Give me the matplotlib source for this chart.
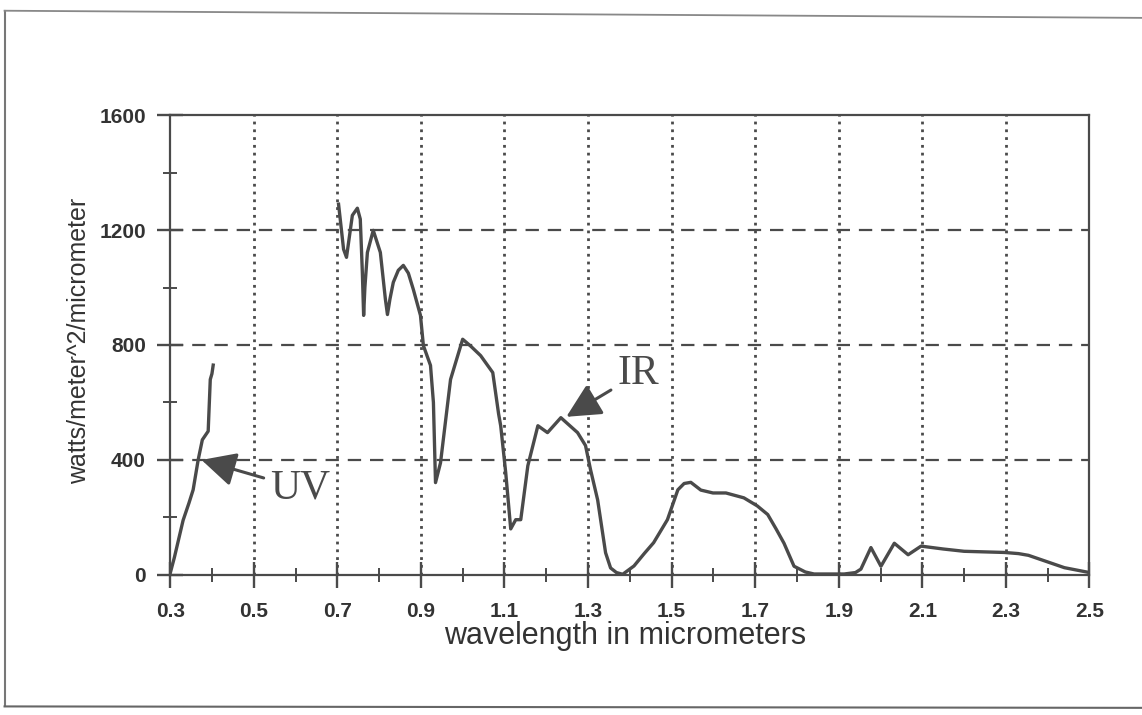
import matplotlib
matplotlib.use("Agg")
import matplotlib.pyplot as plt
from matplotlib.lines import Line2D
from matplotlib.ticker import MultipleLocator

# UV segment (wavelength in micrometers, watts/m^2/micrometer)
uv_x = [0.300, 0.310, 0.331, 0.345, 0.355, 0.367, 0.377, 0.391, 0.396, 0.400, 0.403]
uv_y = [5, 60, 190, 250, 296, 400, 470, 500, 680, 700, 730]

# visible / IR segment
ir_x = [0.703, 0.707, 0.715, 0.722, 0.727, 0.736, 0.748, 0.755, 0.760, 0.763, 0.766,
        0.772, 0.786, 0.803, 0.815, 0.820, 0.826, 0.834, 0.846, 0.858, 0.870, 0.882,
        0.899, 0.906, 0.923, 0.930, 0.935, 0.947, 0.971, 1.000, 1.020, 1.043, 1.072,
        1.086, 1.091, 1.103, 1.115, 1.127, 1.139, 1.156, 1.180, 1.203, 1.235, 1.275,
        1.294, 1.306, 1.323, 1.342, 1.354, 1.368, 1.383, 1.410, 1.435, 1.457, 1.490,
        1.515, 1.530, 1.546, 1.570, 1.599, 1.630, 1.673, 1.705, 1.730, 1.750, 1.769,
        1.793, 1.820, 1.841, 1.913, 1.940, 1.953, 1.977, 2.001, 2.033, 2.066, 2.097,
        2.150, 2.200, 2.296, 2.330, 2.354, 2.402, 2.440, 2.500]
ir_y = [1290, 1238, 1133, 1105, 1157, 1251, 1276, 1238, 1050, 903, 1000,
        1122, 1199, 1122, 960, 906, 960, 1018, 1060, 1077, 1050, 993,
        903, 798, 729, 600, 321, 390, 680, 820, 795, 763, 704,
        560, 519, 356, 160, 192, 192, 380, 519, 495, 547, 495,
        450, 366, 261, 77, 24, 8, 2, 31, 75, 112, 192,
        296, 318, 322, 295, 285, 285, 268, 240, 210, 160, 110,
        30, 10, 3, 3, 8, 20, 95, 30, 110, 70, 100,
        90, 82, 78, 74, 68, 44, 25, 8]

xticks = [0.3, 0.5, 0.7, 0.9, 1.1, 1.3, 1.5, 1.7, 1.9, 2.1, 2.3, 2.5]
yticks = [0, 400, 800, 1200, 1600]

ink = "#4a4a4a"

fig = plt.figure(figsize=(11.42, 7.15), dpi=100)
ax = fig.add_axes([0.149, 0.196, 0.805, 0.643])

ax.plot(uv_x, uv_y, color=ink, lw=2.4, solid_joinstyle="round")
ax.plot(ir_x, ir_y, color=ink, lw=2.4, solid_joinstyle="round")

ax.set_xlim(0.3, 2.5)
ax.set_ylim(0, 1600)
ax.set_xticks(xticks)
ax.set_xticklabels([f"{t:.1f}" for t in xticks])
ax.set_yticks(yticks)
ax.xaxis.set_minor_locator(MultipleLocator(0.1))
ax.yaxis.set_minor_locator(MultipleLocator(200))
ax.tick_params(axis="both", which="major", direction="inout", length=19, width=1.7,
               color=ink, labelsize=15, labelcolor="#333333")
ax.tick_params(axis="x", which="major", pad=10)
ax.tick_params(axis="y", which="major", pad=8)
ax.tick_params(axis="both", which="minor", direction="inout", length=10, width=1.4, color=ink)
for lab in ax.get_xticklabels() + ax.get_yticklabels():
    lab.set_fontweight("bold")
    lab.set_family("Liberation Sans")

for sp in ax.spines.values():
    sp.set_color(ink)
    sp.set_linewidth(1.6)

# grid: dotted verticals, dashed horizontals
for x in xticks[1:-1]:
    ax.axvline(x, color=ink, lw=2.0, ls=(0, (1.0, 1.8)), zorder=0)
for y in yticks[1:-1]:
    ax.axhline(y, color=ink, lw=1.6, ls=(0, (6, 4)), zorder=0)

ax.set_xlabel("wavelength in micrometers", fontsize=22, color="#333333",
              family="Liberation Sans")
ax.set_ylabel("watts/meter^2/micrometer", fontsize=18, color="#333333",
              family="Liberation Sans")
ax.xaxis.set_label_coords(0.495, -0.100)
ax.yaxis.set_label_coords(-0.086, 0.51)

# annotations
arrow = dict(arrowstyle="-|>,head_length=0.7,head_width=0.35",
             color=ink, lw=2.2, shrinkA=3, shrinkB=0)
ax.annotate("UV", xy=(0.375, 400), xytext=(0.54, 300), fontsize=30,
            family="Liberation Serif", color=ink, va="center", ha="left",
            arrowprops=arrow)
ax.annotate("IR", xy=(1.248, 550), xytext=(1.37, 700), fontsize=30,
            family="Liberation Serif", color=ink, va="center", ha="left",
            arrowprops=arrow)

# outer frame of the scanned page
fig.add_artist(Line2D([0.004, 0.004], [0.012, 0.985], color="#777777", lw=1.5))
fig.add_artist(Line2D([0.004, 1.0], [0.985, 0.975], color="#888888", lw=1.3))
fig.add_artist(Line2D([0.004, 1.0], [0.012, 0.010], color="#666666", lw=1.5))

fig.savefig("out.png", dpi=100)
